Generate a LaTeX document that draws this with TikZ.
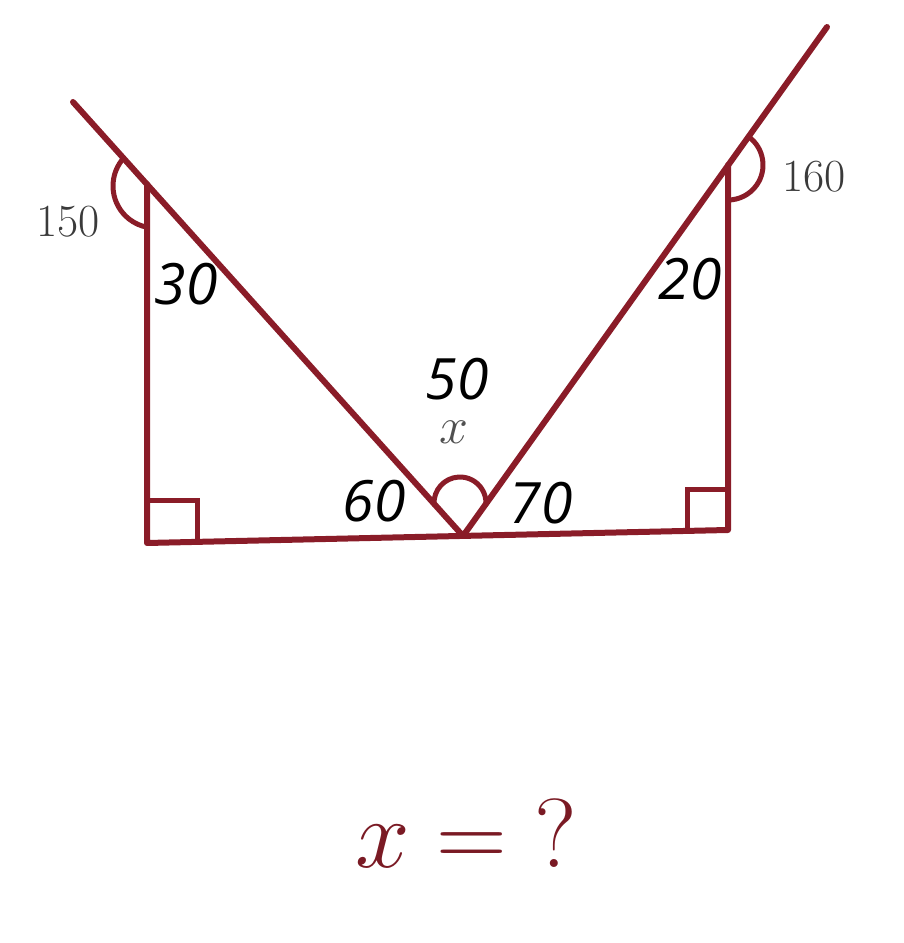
\RequirePackage{fix-cm}
\documentclass[tikz,border=0pt]{standalone}
\usepackage{fontspec}
\usepackage{amsmath}
\usepackage{xcolor}
\usepackage{tikz}
\usetikzlibrary{calc}
\newfontfamily\labfont{Open Sans}
\definecolor{wine}{HTML}{8A1C28}
\definecolor{winetext}{HTML}{7A1A24}
\definecolor{grey}{HTML}{3A3A3A}
\definecolor{greyx}{HTML}{505050}
\tikzset{
  base/.style={draw=wine, line width=6pt, line cap=round, line join=round},
  ang/.style={draw=wine, line width=5pt, line cap=round},
  lab/.style={text=black, font=\labfont\itshape\fontsize{57}{60}\selectfont, inner sep=0pt},
  labm/.style={text=grey, font=\fontsize{46}{50}\selectfont, inner sep=0pt},
  labx/.style={text=greyx, font=\fontsize{52}{56}\selectfont, inner sep=0pt},
  labq/.style={text=winetext, font=\fontsize{98}{110}\selectfont, inner sep=0pt},
}
\begin{document}
\begin{tikzpicture}[x=1pt,y=1pt]
  \useasboundingbox (0,0) rectangle (903,943);
  \coordinate (TL) at (73,841);
  \coordinate (V)  at (463,407);
  \coordinate (TR) at (827,916);
  \coordinate (BL) at (147,400);
  \coordinate (BR) at (728,413);
  \coordinate (Lc) at (147,759);
  \coordinate (Rc) at (728,778);
  % triangle sides
  \draw[base] (TL)--(V)--(TR);
  \draw[base] (Lc)--(BL)--(BR)--(Rc);
  % right angles
  \draw[ang] ($(BL)+(0,42)$)--($(BL)+(50,42)$)--($(BL)+(50,1)$);
  \draw[ang] ($(BR)+(0,40)$)--($(BR)+(-41,40)$)--($(BR)+(-41,-1)$);
  % angle arcs
  \draw[ang] ($(155,757)+(142:42)$) arc[start angle=142, end angle=259, radius=42];
  \draw[ang] ($(Rc)+(54.4:35)$) arc[start angle=54.4, end angle=-90, radius=35];
  \draw[ang] ($(460,440)+(183:26)$) arc[start angle=183, end angle=-3, radius=26];
  % labels
  \node[labm] (a150) at (68,721) {150};
  \node[labm] (a160) at (814,766) {160};
  \node[labx] (ax) at (454,511) {$x$};
  \node[lab] (a30) at (186,659) {30};
  \node[lab] (a20) at (690,664) {20};
  \node[lab] (a50) at (457,564) {50};
  \node[lab] (a60) at (374,442) {60};
  \node[lab] (a70) at (541,440) {70};
  \node[labq, anchor=base] (q) at (466,75) {$x = {?}$};
\end{tikzpicture}
\end{document}
